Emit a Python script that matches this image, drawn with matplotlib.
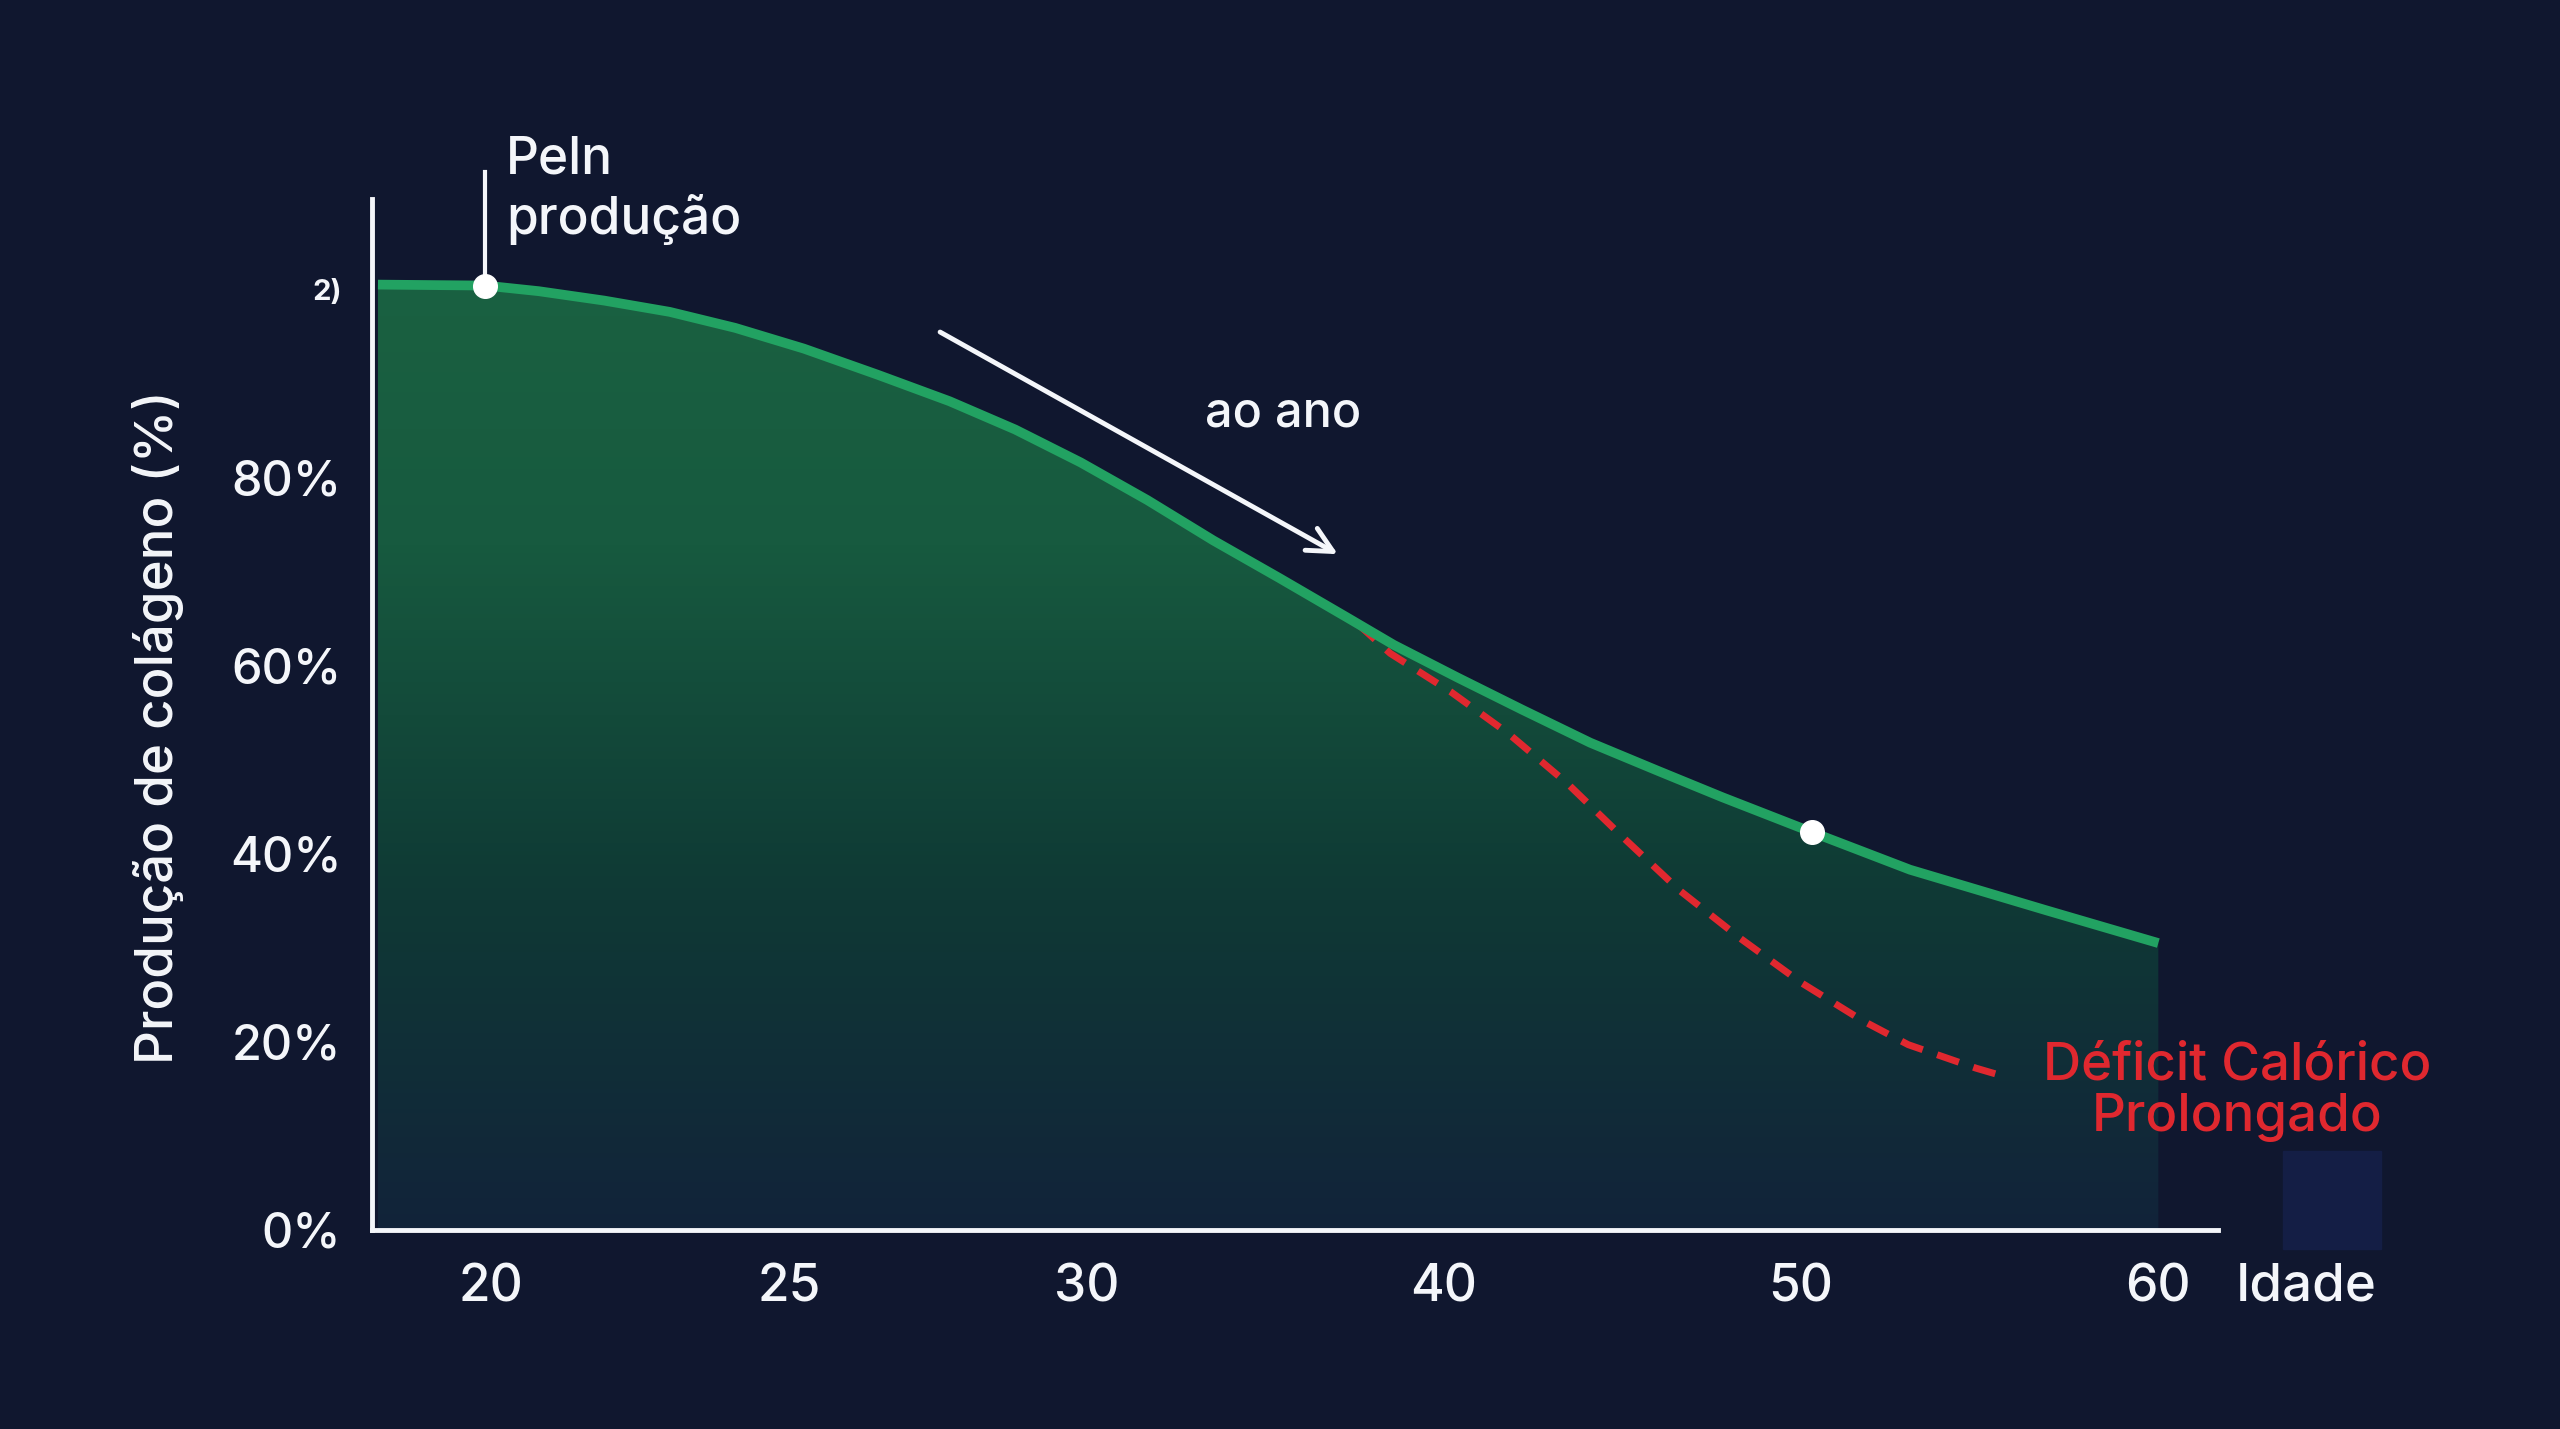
import numpy as np
import matplotlib.pyplot as plt
from matplotlib.colors import LinearSegmentedColormap
from matplotlib.patches import Rectangle

plt.rcParams['font.family'] = ['Inter', 'DejaVu Sans']

# Curva principal (idade, % de produção de colágeno)
ages = [18.1, 19.9, 20.8, 21.9, 23.0, 24.1, 25.25, 26.5, 27.7, 28.8, 29.9, 31.7, 33.55,
        35.4, 37.3, 38.6, 40.4, 42.2, 44.1, 46.0, 47.8, 50.3, 53.05, 56.85, 60.0]
collagen = [100.5, 100.4, 99.8, 98.8, 97.6, 95.9, 93.7, 90.9, 88.1, 85.1, 81.6, 77.6, 73.3,
            69.3, 65.1, 62.2, 58.7, 55.3, 51.8, 48.8, 46.0, 42.3, 38.3, 34.0, 30.5]

# Curva com déficit calórico prolongado
deficit_ages = [37.6, 38.5, 40.2, 41.8, 43.45, 45.0, 46.6, 48.3, 50.0, 51.7, 53.0, 54.9, 55.8]
deficit_vals = [64.4, 61.3, 57.2, 52.8, 47.5, 41.8, 36.1, 31.0, 26.3, 22.3, 19.7, 17.2, 16.2]

# Pontos destacados
marker_ages = [19.9, 50.3]
marker_vals = [100.4, 42.3]

x_ticks = [20, 25, 30, 40, 50, 60]
y_ticks = [0, 20, 40, 60, 80, 100]
y_labels = ['0%', '20%', '40%', '60%', '80%', '2)']

bg = '#10172f'
white = '#f4f6fa'
green = '#22a262'
red = '#e0282f'

fig = plt.figure(figsize=(25.6, 14.29), dpi=100, facecolor=bg)
ax = fig.add_axes([372 / 2560, 1 - 1230 / 1429, (2218 - 372) / 2560, (1230 - 199) / 1429])
ax.set_facecolor(bg)

# eixo x comprimido depois dos 30 anos
def fwd(a):
    return np.interp(a, [0, 30, 100], [0, 30, 72])

def inv(d):
    return np.interp(d, [0, 30, 72], [0, 30, 100])

ax.set_xscale('function', functions=(fwd, inv))

# Preenchimento em degradê sob a curva
fill = ax.fill_between(ages, collagen, 0, facecolor='none', edgecolor='none')
cmap = LinearSegmentedColormap.from_list('g', ['#12233a', '#0f3a35', '#175a3f', '#1b6342'])
grad = np.linspace(0, 1, 256).reshape(-1, 1)
im = ax.imshow(grad, cmap=cmap, origin='lower', aspect='auto', extent=(0, 1, 0, 1),
               transform=ax.transAxes, zorder=1)
im.set_clip_path(fill.get_paths()[0], transform=fill.get_transform())
ax.set_xlim(18.0, 61.67)
ax.set_ylim(0, 109.6)

ax.plot(ages, collagen, color=green, lw=7, solid_capstyle='butt', solid_joinstyle='round', zorder=3)
ax.plot(deficit_ages, deficit_vals, color=red, lw=5, dashes=(3.3, 2.2), zorder=2)

# marcador do pico e linha vertical
ax.plot([marker_ages[0], marker_ages[0]], [marker_vals[0], 112.5], color=white, lw=3,
        clip_on=False, zorder=4)
ax.plot(marker_ages, marker_vals, 'o', color='white', ms=17, zorder=5, clip_on=False)

ax.text(20.25, 116.3, 'Peln\nprodução', color=white, fontsize=37, fontweight='medium',
        ha='left', va='top', linespacing=1.22)

ax.annotate('', xy=(37.1, 71.7), xytext=(27.5, 95.6),
            arrowprops=dict(arrowstyle='->', color=white, lw=3.5, mutation_scale=45))
ax.text(35.5, 86.8, 'ao ano', color=white, fontsize=35, fontweight='medium',
        ha='center', va='center')

ax.text(62.2, 14.7, 'Déficit Calórico\nProlongado', color=red, fontsize=38, fontweight='medium',
        ha='center', va='center', linespacing=1.08)

# Eixos
for s in ['top', 'right']:
    ax.spines[s].set_visible(False)
for s in ['left', 'bottom']:
    ax.spines[s].set_color(white)
    ax.spines[s].set_linewidth(3.5)

ax.set_xticks(x_ticks)
ax.set_xticklabels([str(t) for t in x_ticks])
ax.set_yticks(y_ticks)
ax.set_yticklabels(y_labels)
ax.xaxis.set_minor_locator(plt.NullLocator())
ax.tick_params(axis='both', length=0, colors=white)
ax.tick_params(axis='y', pad=22, labelsize=35)
ax.tick_params(axis='x', pad=24, labelsize=37)
for lab in ax.get_xticklabels() + ax.get_yticklabels():
    lab.set_fontweight('medium')
ax.get_yticklabels()[-1].set_fontsize(21)
ax.get_yticklabels()[-1].set_fontweight('bold')

fig.text(2306 / 2560, 1 - 1287 / 1429, 'Idade', color=white, fontsize=38, fontweight='medium',
         ha='center', va='center')
fig.text(158 / 2560, 1 - 727 / 1429, 'Produção de colágeno (%)', color=white, fontsize=38,
         fontweight='medium', rotation=90, ha='center', va='center')

fig.patches.append(Rectangle((2283 / 2560, 1 - 1249 / 1429), 98 / 2560, 98 / 1429,
                             transform=fig.transFigure, color='#141e45', zorder=0))

fig.savefig('out.png', dpi=100, facecolor=bg)
